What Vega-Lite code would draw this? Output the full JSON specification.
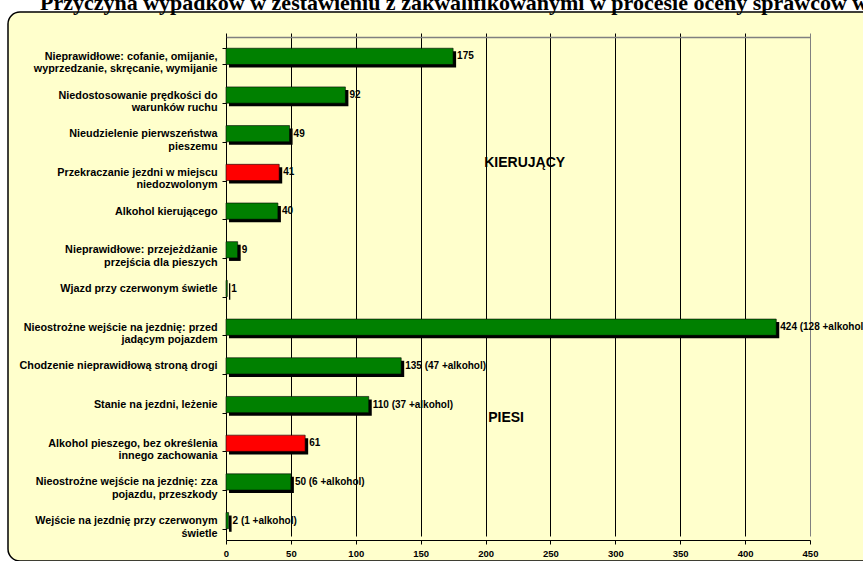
{
  "$schema": "https://vega.github.io/schema/vega-lite/v6.json",
  "autosize": {"type": "none"},
  "padding": {"left": 8, "top": 12, "right": 0, "bottom": 0},
  "width": 870,
  "height": 549,
  "background": "white",
  "title": {
    "text": "Przyczyna wypadków w zestawieniu z zakwalifikowanymi w procesie oceny sprawców w roku",
    "anchor": "start",
    "dx": 32,
    "offset": -9,
    "font": "Liberation Serif",
    "fontSize": 22,
    "fontWeight": "bold",
    "color": "black"
  },
  "config": {
    "view": {"fill": "#FFFFCC", "stroke": "black", "strokeWidth": 1.5, "cornerRadius": 12},
    "font": "Liberation Sans"
  },
  "data": {
    "values": [
      {"przyczyna": "Nieprawidłowe: cofanie, omijanie,\nwyprzedzanie, skręcanie, wymijanie", "liczba": 175, "etykieta": "175", "wyroznienie": "nie"},
      {"przyczyna": "Niedostosowanie prędkości do\nwarunków ruchu", "liczba": 92, "etykieta": "92", "wyroznienie": "nie"},
      {"przyczyna": "Nieudzielenie pierwszeństwa\npieszemu", "liczba": 49, "etykieta": "49", "wyroznienie": "nie"},
      {"przyczyna": "Przekraczanie jezdni w miejscu\nniedozwolonym", "liczba": 41, "etykieta": "41", "wyroznienie": "tak"},
      {"przyczyna": "Alkohol kierującego", "liczba": 40, "etykieta": "40", "wyroznienie": "nie"},
      {"przyczyna": "Nieprawidłowe: przejeżdżanie\nprzejścia dla pieszych", "liczba": 9, "etykieta": "9", "wyroznienie": "nie"},
      {"przyczyna": "Wjazd przy czerwonym świetle", "liczba": 1, "etykieta": "1", "wyroznienie": "nie"},
      {"przyczyna": "Nieostrożne wejście na jezdnię: przed\njadącym pojazdem", "liczba": 424, "etykieta": "424 (128 +alkohol)", "wyroznienie": "nie"},
      {"przyczyna": "Chodzenie nieprawidłową stroną drogi", "liczba": 135, "etykieta": "135 (47 +alkohol)", "wyroznienie": "nie"},
      {"przyczyna": "Stanie na jezdni, leżenie", "liczba": 110, "etykieta": "110 (37 +alkohol)", "wyroznienie": "nie"},
      {"przyczyna": "Alkohol pieszego, bez określenia\ninnego zachowania", "liczba": 61, "etykieta": "61", "wyroznienie": "tak"},
      {"przyczyna": "Nieostrożne wejście na jezdnię: zza\npojazdu, przeszkody", "liczba": 50, "etykieta": "50 (6 +alkohol)", "wyroznienie": "nie"},
      {"przyczyna": "Wejście na jezdnię przy czerwonym\nświetle", "liczba": 2, "etykieta": "2 (1 +alkohol)", "wyroznienie": "nie"}
    ]
  },
  "resolve": {"axis": {"x": "independent"}},
  "layer": [
    {
      "mark": {"type": "bar", "color": "black", "xOffset": 3, "yOffset": 3},
      "encoding": {
        "x": {
          "field": "liczba", "type": "quantitative", "title": null,
          "scale": {"domain": [0, 450], "range": [218, 802], "nice": false},
          "axis": {
            "orient": "bottom", "offset": -21, "title": null,
            "values": [0, 50, 100, 150, 200, 250, 300, 350, 400, 450],
            "grid": true,
            "gridColor": {"condition": {"test": "datum.value === 450", "value": "#808080"}, "value": "black"},
            "gridWidth": 1,
            "tickColor": "black", "tickSize": 4, "domainColor": "black",
            "labelFontSize": 9.5, "labelFontWeight": "bold", "labelColor": "black",
            "labelPadding": 4, "labelFlush": false
          }
        },
        "y": {
          "field": "przyczyna", "type": "nominal", "sort": null, "title": null,
          "scale": {"range": [25, 528], "paddingInner": 0.58, "paddingOuter": 0.29},
          "axis": {
            "title": null, "offset": -218,
            "labelExpr": "isValid(datum.value) && datum.label ? split(datum.value, '\\n') : ''",
            "labelFontSize": 10.8, "labelFontWeight": "bold", "labelColor": "black",
            "labelLineHeight": 12.5, "labelAlign": "right", "labelBaseline": "middle",
            "labelPadding": 5, "labelLimit": 300, "labelOverlap": false,
            "tickBand": "extent", "tickSize": 4, "tickColor": "black", "domainColor": "black"
          }
        }
      }
    },
    {
      "mark": {"type": "bar", "stroke": "black", "strokeWidth": 0.6},
      "encoding": {
        "x": {
          "field": "liczba", "type": "quantitative", "title": null,
          "axis": {"orient": "top", "offset": -25, "title": null, "labels": false, "ticks": false, "grid": false, "domainColor": "#808080", "domainWidth": 1.5}
        },
        "y": {"field": "przyczyna", "type": "nominal", "sort": null, "title": null},
        "color": {
          "field": "wyroznienie", "type": "nominal",
          "scale": {"domain": ["nie", "tak"], "range": ["#008000", "#FF0000"]},
          "legend": null
        }
      }
    },
    {
      "mark": {"type": "text", "align": "left", "baseline": "middle", "dx": 4, "fontSize": 10, "fontWeight": "bold", "color": "black"},
      "encoding": {
        "x": {"field": "liczba", "type": "quantitative", "axis": null, "title": null},
        "y": {"field": "przyczyna", "type": "nominal", "sort": null, "title": null},
        "text": {"field": "etykieta"}
      }
    },
    {
      "data": {"values": [{}]},
      "mark": {"type": "text", "align": "left", "baseline": "middle", "dy": -9, "fontSize": 14, "fontWeight": "bold", "color": "black"},
      "encoding": {
        "x": {"datum": 199, "type": "quantitative", "axis": null, "title": null},
        "y": {"datum": "Przekraczanie jezdni w miejscu\nniedozwolonym", "type": "nominal", "title": null},
        "text": {"value": "KIERUJĄCY"}
      }
    },
    {
      "data": {"values": [{}]},
      "mark": {"type": "text", "align": "left", "baseline": "middle", "dy": 13, "fontSize": 14, "fontWeight": "bold", "color": "black"},
      "encoding": {
        "x": {"datum": 202, "type": "quantitative", "axis": null, "title": null},
        "y": {"datum": "Stanie na jezdni, leżenie", "type": "nominal", "title": null},
        "text": {"value": "PIESI"}
      }
    }
  ]
}
